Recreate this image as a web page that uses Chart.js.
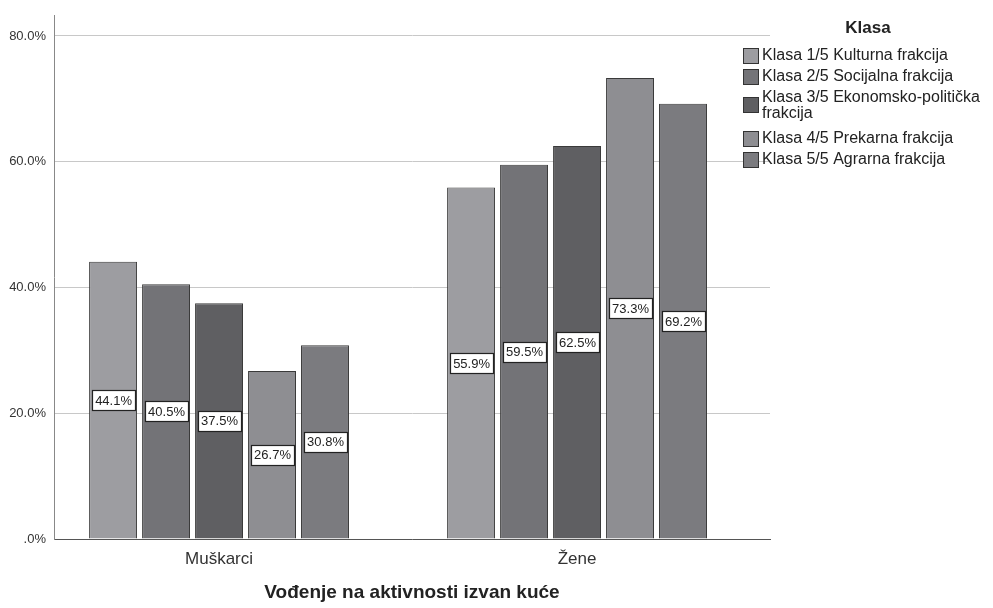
<!DOCTYPE html>
<html>
<head>
<meta charset="utf-8">
<script src="https://cdn.jsdelivr.net/npm/chart.js@4"></script>
<style>
  html, body { margin: 0; padding: 0; background: #fff; }
  #wrap { width: 993px; height: 608px; }
</style>
</head>
<body>
<div id="wrap"><canvas id="klasaChart"></canvas></div>
<script>
const categories = ["Muškarci", "Žene"];
const classNames = [
  "Klasa 1/5 Kulturna frakcija",
  "Klasa 2/5 Socijalna frakcija",
  "Klasa 3/5 Ekonomsko-politička frakcija",
  "Klasa 4/5 Prekarna frakcija",
  "Klasa 5/5 Agrarna frakcija"
];
const klasa1 = [44.1, 55.9];
const klasa2 = [40.5, 59.5];
const klasa3 = [37.5, 62.5];
const klasa4 = [26.7, 73.3];
const klasa5 = [30.8, 69.2];
const yTicks = [0, 20, 40, 60, 80];

const seriesValues = [klasa1, klasa2, klasa3, klasa4, klasa5];
const fills = ["#9d9da1", "#737377", "#5f5f62", "#8e8e92", "#7b7b7f"];
const legendLines = [
  ["Klasa 1/5 Kulturna frakcija"],
  ["Klasa 2/5 Socijalna frakcija"],
  ["Klasa 3/5 Ekonomsko-politička", "frakcija"],
  ["Klasa 4/5 Prekarna frakcija"],
  ["Klasa 5/5 Agrarna frakcija"]
];
const FONT = "'Liberation Sans', Arial, sans-serif";

const fmt = v => (v === 0 ? ".0%" : v.toFixed(1) + "%");

// white boxed labels in the middle of every bar
const barLabels = {
  id: "barLabels",
  afterDatasetsDraw(chart) {
    const ctx = chart.ctx;
    ctx.save();
    ctx.font = "13px " + FONT;
    ctx.textAlign = "center";
    ctx.textBaseline = "middle";
    chart.data.datasets.forEach((ds, i) => {
      chart.getDatasetMeta(i).data.forEach((bar, j) => {
        const v = ds.data[j].y;
        const y = (bar.y + bar.base) / 2;
        const text = v.toFixed(1) + "%";
        const w = Math.round(ctx.measureText(text).width + 6);
        const h = 20;
        const left = Math.round(bar.x - w / 2), top = Math.round(y - h / 2);
        ctx.fillStyle = "#fff";
        ctx.fillRect(left, top, w, h);
        ctx.strokeStyle = "#222";
        ctx.lineWidth = 1.2;
        ctx.strokeRect(left + 0.5, top + 0.5, w, h);
        ctx.fillStyle = "#222";
        ctx.fillText(text, bar.x + 0.5, y + 1);
      });
    });
    ctx.restore();
  }
};

// legend on the right with a wrapped entry
const sideLegend = {
  id: "sideLegend",
  afterDraw(chart) {
    const ctx = chart.ctx;
    ctx.save();
    ctx.fillStyle = "#222";
    ctx.font = "bold 17px " + FONT;
    ctx.textAlign = "center";
    ctx.textBaseline = "middle";
    ctx.fillText("Klasa", 868, 28);
    ctx.font = "16px " + FONT;
    ctx.textAlign = "left";
    let y = 56;
    chart.data.datasets.forEach((ds, i) => {
      const lines = legendLines[i];
      const boxY = lines.length > 1 ? y + 7 : y;
      ctx.fillStyle = ds.backgroundColor;
      ctx.fillRect(743, boxY - 7, 15, 15);
      ctx.strokeStyle = "#333";
      ctx.lineWidth = 1;
      ctx.strokeRect(743.5, boxY - 7.5, 15, 15);
      ctx.fillStyle = "#222";
      lines.forEach((line, k) => ctx.fillText(line, 762, y + k * 16));
      y += 21 + (lines.length - 1) * 20;
    });
    ctx.restore();
  }
};

new Chart(document.getElementById("klasaChart"), {
  type: "bar",
  data: {
    datasets: seriesValues.map((vals, i) => ({
      label: classNames[i],
      data: vals.map((v, k) => ({ x: k, y: v })),
      backgroundColor: fills[i],
      borderColor: "#3a3a3a",
      borderWidth: 1,
      categoryPercentage: 0.74,
      barPercentage: 0.905
    }))
  },
  options: {
    responsive: true,
    maintainAspectRatio: false,
    animation: false,
    layout: { padding: { top: 1, right: 223, left: 0, bottom: 0 } },
    plugins: {
      legend: { display: false },
      tooltip: { enabled: false }
    },
    scales: {
      x: {
        type: "linear",
        offset: false,
        min: -0.461,
        max: 1.539,
        grid: { display: false, drawTicks: false },
        border: { color: "#555", width: 1 },
        afterBuildTicks(scale) { scale.ticks = categories.map((c, k) => ({ value: k })); },
        ticks: {
          color: "#333",
          font: { family: FONT, size: 17 },
          padding: 10,
          callback: v => categories[v]
        },
        title: {
          display: true,
          text: "Vođenje na aktivnosti izvan kuće",
          color: "#222",
          font: { family: FONT, size: 19, weight: "bold" },
          padding: { top: 10 }
        },
        afterFit(scale) { scale.height = 69; }
      },
      y: {
        min: 0,
        max: 83.2,
        grid: { color: "#c8c8c8", drawTicks: false },
        border: { color: "#888", width: 1 },
        afterBuildTicks(scale) { scale.ticks = yTicks.map(v => ({ value: v })); },
        ticks: {
          color: "#333",
          font: { family: FONT, size: 13 },
          padding: 8,
          callback: v => fmt(v)
        },
        afterFit(scale) { scale.width = 54; }
      }
    }
  },
  plugins: [barLabels, sideLegend]
});
</script>
</body>
</html>
